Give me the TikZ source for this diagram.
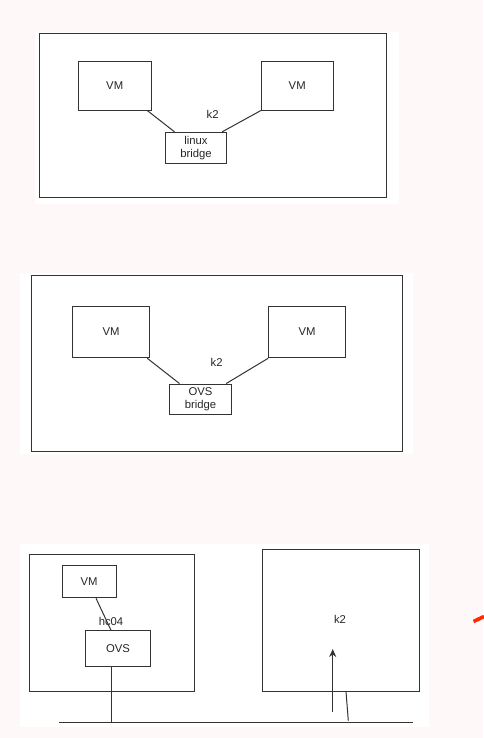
\documentclass[tikz,border=0pt]{standalone}
\usepackage{fontspec}
\setmainfont{Liberation Sans}
\usetikzlibrary{arrows.meta}
\definecolor{pagebg}{HTML}{FFF8F8}
\definecolor{linecol}{HTML}{333333}
\definecolor{markred}{HTML}{FF2A00}
\tikzset{
  box/.style={draw=linecol, line width=1pt, inner sep=0pt, align=center,
    text=black!85, font=\fontsize{11.3}{12.8}\selectfont},
  lbl/.style={inner sep=0pt, text=black!85, font=\fontsize{11.3}{12.8}\selectfont},
  wire/.style={draw=linecol, line width=1pt},
}
\begin{document}
\begin{tikzpicture}[x=1pt,y=-1pt]
  \fill[pagebg] (0,0) rectangle (483,738);
  \useasboundingbox (0,0) rectangle (483,738);
  \fill[white] (35,32) rectangle (399,204);
  \fill[white] (20,273.3) rectangle (412.7,454);
  \fill[white] (20,544.3) rectangle (429,726.7);

  % linux bridge
  \node[box, minimum width=347.4pt, minimum height=163.7pt] (host1) at (213,115.2) {};
  \node[box, minimum width=72.7pt, minimum height=48.3pt] (vm1a) at (114.7,85.9) {VM};
  \node[box, minimum width=71.7pt, minimum height=48.3pt] (vm1b) at (297.2,85.9) {VM};
  \node[lbl] (k2a) at (212.7,114.3) {k2};
  \node[box, minimum width=61.4pt, minimum height=31pt] (lbr) at (196,147.8) {linux\\bridge};
  \draw[wire] ([xshift=-4.3pt]vm1a.south east) -- ([xshift=9.7pt]lbr.north west);
  \draw[wire] (vm1b.south west) -- ([xshift=-5pt]lbr.north east);

  % ovs bridge
  \node[box, minimum width=371.4pt, minimum height=176pt] (host2) at (217,363) {};
  \node[box, minimum width=76.6pt, minimum height=51.7pt] (vm2a) at (111,331.9) {VM};
  \node[box, minimum width=76.6pt, minimum height=51.7pt] (vm2b) at (307,331.9) {VM};
  \node[lbl] (k2b) at (216.7,362.3) {k2};
  \node[box, minimum width=62.4pt, minimum height=30.7pt] (obr) at (200.5,399.4) {OVS\\bridge};
  \draw[wire] ([xshift=-2.6pt]vm2a.south east) -- ([xshift=10.7pt]obr.north west);
  \draw[wire] (vm2b.south west) -- ([xshift=-6pt]obr.north east);

  % hc04 and k2 on the wire
  \node[box, minimum width=164.6pt, minimum height=136.7pt] (hc) at (112,622.7) {};
  \node[box, minimum width=54pt, minimum height=32.7pt] (vm3) at (89,581.4) {VM};
  \node[lbl] (hclbl) at (111,621) {hc04};
  \node[box, minimum width=64.6pt, minimum height=35.3pt] (ovs) at (118,648.4) {OVS};
  \node[box, minimum width=157pt, minimum height=141.7pt] (k2host) at (340.5,620.2) {};
  \node[lbl] (k2c) at (340,619.3) {k2};
  \coordinate (busL) at (59.3,722.7);
  \coordinate (busR) at (413.3,722.7);
  \coordinate (tap) at (111.7,722.7);
  \coordinate (up0) at (332.7,711.7);
  \coordinate (up1) at (332.7,649);
  \coordinate (k2tap) at (348.3,720.7);
  \draw[wire] (busL) -- (busR);
  \draw[wire] ([xshift=7pt]vm3.south) -- ([xshift=-7pt]ovs.north);
  \draw[wire] ([xshift=-6.3pt]ovs.south) -- (tap);
  \draw[wire] ([xshift=5.5pt]k2host.south) -- (k2tap);
  \draw[wire, -{Stealth[length=8pt,width=7pt]}] (up0) -- (up1);

  \draw[markred, line width=3.6pt] (473.5,621.5) -- (484,616.5);
\end{tikzpicture}
\end{document}
